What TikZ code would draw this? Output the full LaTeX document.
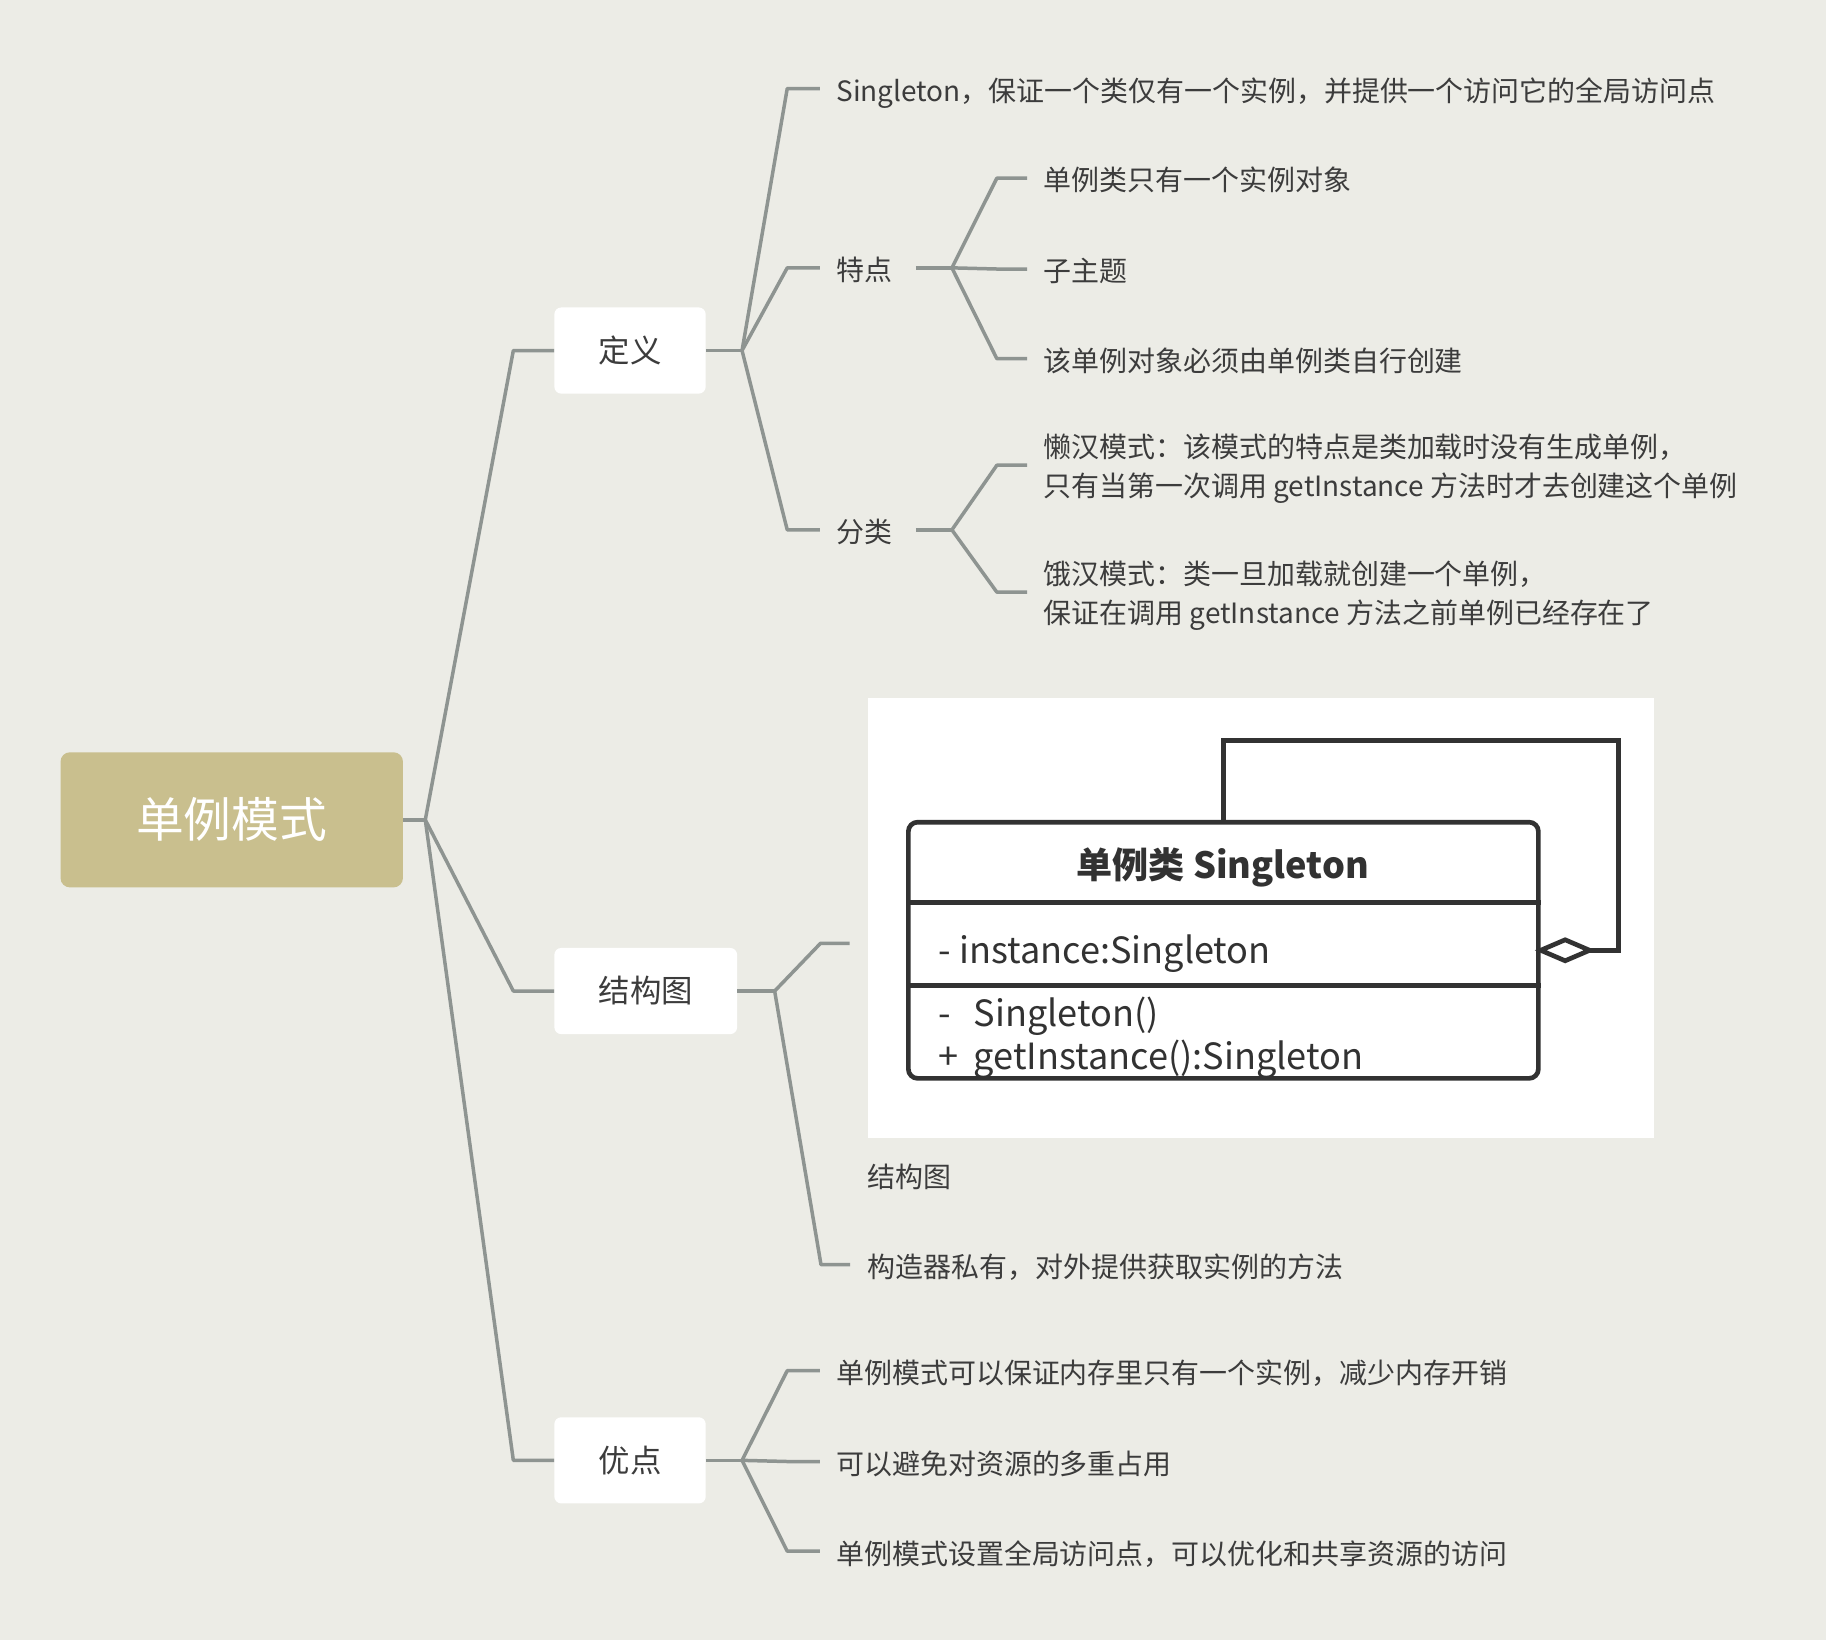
\documentclass[tikz,border=0pt]{standalone}
\usepackage{fontspec}
\setmainfont{Noto Sans CJK SC}
\usetikzlibrary{calc,fit}
\definecolor{bgc}{RGB}{236,236,230}
\definecolor{connc}{RGB}{142,148,145}
\definecolor{rootc}{RGB}{201,191,142}
\definecolor{txtc}{RGB}{60,60,60}
\definecolor{umlc}{RGB}{50,50,50}
\begin{document}
\begin{tikzpicture}[x=1pt,y=-1pt,
  conn/.style={draw=connc,line width=3pt,line join=round},
  rootbox/.style={rectangle,rounded corners=8pt,fill=rootc,text=white,minimum width=294pt,minimum height=116pt,inner sep=0pt,font=\fontsize{41}{41}\selectfont},
  topicbox/.style={rectangle,rounded corners=6pt,fill=white,text=txtc,minimum height=74pt,inner sep=0pt,font=\fontsize{27}{27}\selectfont},
  leaf/.style={anchor=west,inner sep=0pt,text=txtc,font=\fontsize{24}{33}\selectfont,text height=23pt,text depth=1pt},
  leafml/.style={anchor=west,inner sep=0pt,text=txtc,font=\fontsize{24}{33}\selectfont,align=left},
  umlline/.style={draw=umlc,line width=4pt},
  umltxt/.style={anchor=west,inner sep=0pt,text=umlc,font=\fontsize{31}{31}\selectfont,text height=27pt,text depth=2pt}
]
\fill[bgc] (0,0) rectangle (1568,1408);
\useasboundingbox (0,0) rectangle (1568,1408);

% main topics
\node[rootbox] (root) at (199,704) {单例模式};
\node[topicbox,minimum width=130pt] (dy) at (541,301) {定义};
\node[topicbox,minimum width=157pt] (jg) at (554.5,851) {结构图};
\node[topicbox,minimum width=130pt] (yd) at (541,1254) {优点};

% leaves of 定义
\node[leaf] (t1) at (718,76) {Singleton，保证一个类仅有一个实例，并提供一个访问它的全局访问点};
\node[leaf] (td) at (718,230) {特点};
\node[leaf] (tf) at (718,455) {分类};
\node[leaf] (a1) at (896,153) {单例类只有一个实例对象};
\node[leaf] (a2) at (896,231) {子主题};
\node[leaf] (a3) at (896,308) {该单例对象必须由单例类自行创建};
\node[leafml] (b1) at (896,402.5) {懒汉模式：该模式的特点是类加载时没有生成单例，\\只有当第一次调用 getInstance 方法时才去创建这个单例};
\node[leafml] (b2) at (896,511.5) {饿汉模式：类一旦加载就创建一个单例，\\保证在调用 getInstance 方法之前单例已经存在了};

% leaves of 结构图
\node[rectangle,fill=white,inner sep=0pt,minimum width=675pt,minimum height=378pt] (img) at (1082.5,788) {};
\node[leaf] (cap) at (745,1009) {结构图};
\node[inner sep=0pt,fit=(img)(cap)] (grp) {};
\node[leaf] (g2) at (745,1086) {构造器私有，对外提供获取实例的方法};

% leaves of 优点
\node[leaf] (c1) at (718,1177) {单例模式可以保证内存里只有一个实例，减少内存开销};
\node[leaf] (c2) at (718,1255) {可以避免对资源的多重占用};
\node[leaf] (c3) at (718,1332) {单例模式设置全局访问点，可以优化和共享资源的访问};

% connectors from root
\coordinate (J0) at ($(root.east)+(19,0)$);
\draw[conn] (root.east) -- (J0);
\foreach \n in {dy,jg,yd}{
  \draw[conn] (J0) -- ([xshift=-35pt]\n.west) -- (\n.west);
}
% 定义
\coordinate (J1) at ($(dy.east)+(31,0)$);
\draw[conn] (dy.east) -- (J1);
\foreach \n in {t1,td,tf}{
  \draw[conn] (J1) -- ([xshift=-42pt]\n.west) -- ([xshift=-14pt]\n.west);
}
% 特点
\coordinate (S2) at ($(td.east)+(20,0)$);
\coordinate (J2) at ($(td.east)+(51,0)$);
\draw[conn] (S2) -- (J2);
\foreach \n in {a1,a2,a3}{
  \draw[conn] (J2) -- ([xshift=-40pt]\n.west) -- ([xshift=-14pt]\n.west);
}
% 分类
\coordinate (S3) at ($(tf.east)+(20,0)$);
\coordinate (J3) at ($(tf.east)+(51,0)$);
\draw[conn] (S3) -- (J3);
\coordinate (b1c) at (b1.west |- 0,399.5);
\coordinate (b2c) at (b2.west |- 0,508.5);
\foreach \n in {b1c,b2c}{
  \draw[conn] (J3) -- ([xshift=-40pt]\n) -- ([xshift=-14pt]\n);
}
% 结构图
\coordinate (J4) at ($(jg.east)+(32,0)$);
\draw[conn] (jg.east) -- (J4);
\foreach \n in {grp,g2}{
  \draw[conn] (J4) -- ([xshift=-40pt]\n.west) -- ([xshift=-15pt]\n.west);
}
% 优点
\coordinate (J5) at ($(yd.east)+(31,0)$);
\draw[conn] (yd.east) -- (J5);
\foreach \n in {c1,c2,c3}{
  \draw[conn] (J5) -- ([xshift=-42pt]\n.west) -- ([xshift=-14pt]\n.west);
}

% UML class diagram inside the picture
\node[rectangle,rounded corners=8pt,umlline,fill=white,inner sep=0pt,minimum width=541pt,minimum height=220pt] (cls) at (1050.5,816) {};
\draw[umlline] ($(cls.north west)+(0,71)$) -- ($(cls.north east)+(0,71)$);
\draw[umlline] ($(cls.north west)+(0,142)$) -- ($(cls.north east)+(0,142)$);
\node[inner sep=0pt,text=umlc,font=\fontsize{31}{31}\selectfont\bfseries] (ttl) at (1050,745) {单例类 Singleton};
\node[umltxt] (m1) at (806,815) {- instance:Singleton};
\node[umltxt] (m2) at (806,869) {\makebox[30pt][l]{-}Singleton()};
\node[umltxt] (m3) at (806,906) {\makebox[30pt][l]{+}getInstance():Singleton};
\coordinate (dl) at (cls.east);
\coordinate (dr) at ($(cls.east)+(42,0)$);
\coordinate (lp) at (1390,636);
\draw[umlline,fill=white,line join=miter] (dl) -- ++(21,-9) -- (dr) -- ++(-21,9) -- cycle;
\draw[umlline,line join=miter] (cls.north) |- (lp) |- (dr);
\end{tikzpicture}
\end{document}
